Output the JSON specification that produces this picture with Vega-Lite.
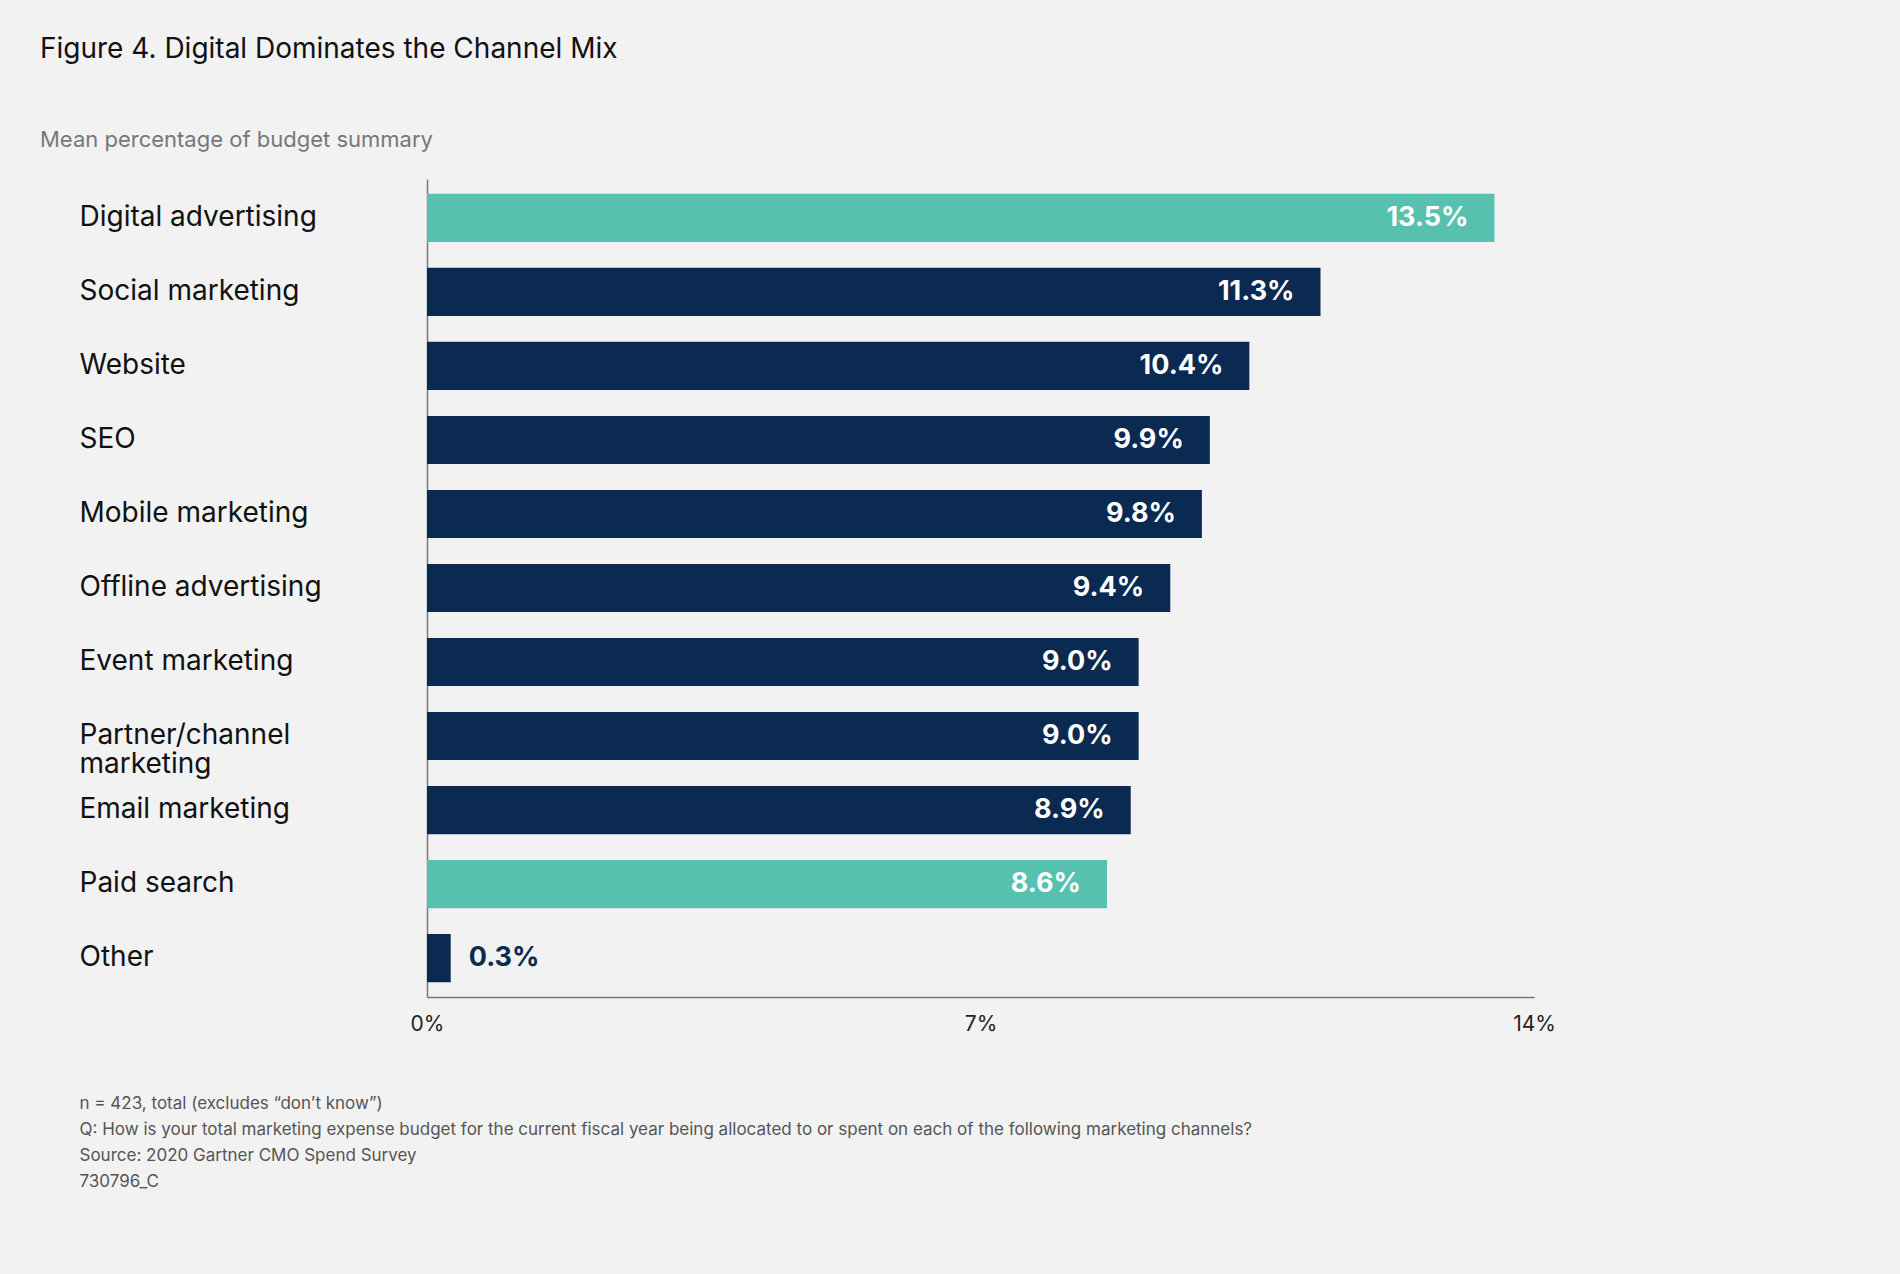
{
  "$schema": "https://vega.github.io/schema/vega-lite/v6.json",
  "autosize": {"type": "none"},
  "width": 1107,
  "height": 818,
  "padding": {"left": 427, "top": 179, "right": 366, "bottom": 277},
  "background": "#f2f2f2",
  "config": {"view": {"stroke": null}},
  "title": {
    "text": "Figure 4. Digital Dominates the Channel Mix",
    "subtitle": "\u00a0\u00a0\u00a0\u00a0\u00a0\u00a0\u00a0Mean percentage of budget summary",
    "anchor": "start",
    "frame": "group",
    "dx": -387,
    "offset": 28,
    "font": "Inter",
    "fontSize": 28,
    "fontWeight": "normal",
    "color": "#111111",
    "subtitleFont": "Inter",
    "subtitleFontSize": 22,
    "subtitleColor": "#777777",
    "subtitlePadding": 66
  },
  "data": {"values": [
    {"channel": "Digital advertising", "value": 13.5, "hl": true},
    {"channel": "Social marketing", "value": 11.3, "hl": false},
    {"channel": "Website", "value": 10.4, "hl": false},
    {"channel": "SEO", "value": 9.9, "hl": false},
    {"channel": "Mobile marketing", "value": 9.8, "hl": false},
    {"channel": "Offline advertising", "value": 9.4, "hl": false},
    {"channel": "Event marketing", "value": 9.0, "hl": false},
    {"channel": "Partner/channel marketing", "value": 9.0, "hl": false},
    {"channel": "Email marketing", "value": 8.9, "hl": false},
    {"channel": "Paid search", "value": 8.6, "hl": true},
    {"channel": "Other", "value": 0.3, "hl": false}
  ]},
  "transform": [{"calculate": "format(datum.value, '.1f') + '%'", "as": "label"}],
  "encoding": {
    "y": {
      "field": "channel", "type": "nominal", "sort": null,
      "scale": {"paddingInner": 0.35, "paddingOuter": 0.2},
      "axis": {
        "title": null, "ticks": false, "domainColor": "#777777", "domainWidth": 1.5,
        "labelAlign": "left", "labelPadding": 348, "labelFont": "Inter", "labelLimit": 0,
        "labelFontSize": 28, "labelColor": "#111111", "labelLineHeight": 29,
        "labelExpr": "datum.label == 'Partner/channel marketing' ? ['Partner/channel', 'marketing'] : datum.label"
      }
    },
    "x": {
      "field": "value", "type": "quantitative",
      "scale": {"domain": [0, 14]},
      "axis": {
        "values": [0, 7, 14], "labelExpr": "datum.value + '%'", "grid": false,
        "ticks": false, "domainColor": "#777777", "domainWidth": 1.5, "labelFlush": false,
        "labelFont": "Inter", "labelFontSize": 21, "labelColor": "#222222", "labelPadding": 16,
        "title": ["n = 423, total (excludes \u201cdon\u2019t know\u201d)", "Q: How is your total marketing expense budget for the current fiscal year being allocated to or spent on each of the following marketing channels?", "Source: 2020 Gartner CMO Spend Survey", "730796_C"],
        "titleAnchor": "start", "titleAlign": "left", "titleBaseline": "top",
        "titleX": -348, "titleY": 98, "titleFont": "Inter", "titleFontSize": 17,
        "titleFontWeight": "normal", "titleColor": "#555555", "titleLineHeight": 26
      }
    }
  },
  "layer": [
    {
      "mark": {"type": "bar"},
      "encoding": {
        "color": {"field": "hl", "type": "nominal", "scale": {"domain": [true, false], "range": ["#56c1ae", "#0b2a52"]}, "legend": null}
      }
    },
    {
      "transform": [{"filter": "datum.value > 1"}],
      "mark": {"type": "text", "align": "right", "dx": -26, "font": "Inter", "fontSize": 27, "fontWeight": "bold", "color": "white"},
      "encoding": {"text": {"field": "label"}}
    },
    {
      "transform": [{"filter": "datum.value <= 1"}],
      "mark": {"type": "text", "align": "left", "dx": 18, "font": "Inter", "fontSize": 27, "fontWeight": "bold", "color": "#0b2a52"},
      "encoding": {"text": {"field": "label"}}
    }
  ]
}
